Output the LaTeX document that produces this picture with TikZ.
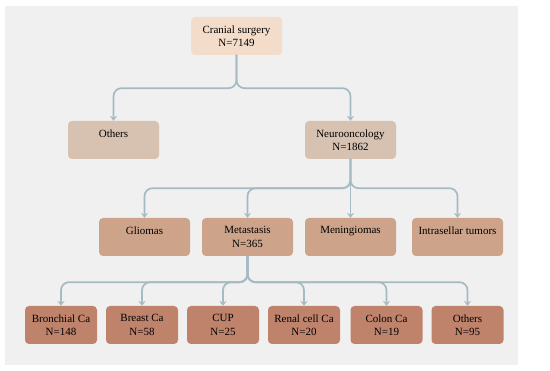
\documentclass[tikz,border=0pt]{standalone}
\usepackage{fontspec}
\setmainfont{Liberation Serif}
\usetikzlibrary{arrows.meta}

\definecolor{bgGray}{HTML}{F0F0F0}
\definecolor{cTop}{HTML}{F3DCCA}
\definecolor{cLvA}{HTML}{D7C2B2}
\definecolor{cLvB}{HTML}{CDA48A}
\definecolor{cLvC}{HTML}{BF836C}
\definecolor{cLink}{HTML}{A6BAC4}

\begin{document}
\begin{tikzpicture}[x=1pt, y=-1pt, font=\fontsize{11}{13.5}\selectfont, line join=round, line cap=round,
	box/.style={rounded corners=4pt, align=center, inner xsep=2pt, inner ysep=0pt,
		minimum height=38pt, minimum width=91pt},
	boxTop/.style={box, fill=cTop},
	boxA/.style={box, fill=cLvA},
	boxB/.style={box, fill=cLvB},
	boxC/.style={box, fill=cLvC, minimum width=72pt},
	link/.style={draw=cLink, line width=1.7pt, rounded corners=8pt, -{Stealth[length=5pt,width=7.5pt,inset=2pt]}}]
	% [Nền - Layer 1]
	\useasboundingbox (0,0) rectangle (550,371);
	\fill[bgGray] (5,6) rectangle (518,365);
	
	% [Các hộp - Layer 2]
	\node[boxTop] (surg) at (236.5,36) {Cranial surgery\\N=7149};
	\node[boxA] (othA) at (113.5,140) {Others\\\mbox{}};
	\node[boxA] (neuro) at (350.5,140) {Neurooncology\\N=1862};
	
	\node[boxB] (glio) at (144.5,237) {Gliomas\\\mbox{}};
	\node[boxB] (meta) at (247.5,237) {Metastasis\\N=365};
	\node[boxB] (menin) at (350.5,237) {Meningiomas\\\mbox{}};
	\node[boxB] (intra) at (457.5,237) {Intrasellar tumors\\\mbox{}};
	
	\node[boxC] (bronch) at (61,325) {Bronchial Ca\\N=148};
	\node[boxC] (breast) at (142,325) {Breast Ca\\N=58};
	\node[boxC] (cup) at (223,325) {CUP\\N=25};
	\node[boxC] (renal) at (304,325) {Renal cell Ca\\N=20};
	\node[boxC] (colon) at (386.5,325) {Colon Ca\\N=19};
	\node[boxC] (othB) at (467.5,325) {Others\\N=95};
	
	% [Mũi tên - Layer 3]
	\draw[link] (surg.south) -- ++(0,33) -| (othA.north);
	\draw[link] (surg.south) -- ++(0,33) -| (neuro.north);
	
	\draw[link] (neuro.south) -- ++(0,29) -| (glio.north);
	\draw[link] (neuro.south) -- ++(0,29) -| (meta.north);
	\draw[link] (neuro.south) -- (menin.north);
	\draw[link] (neuro.south) -- ++(0,29) -| (intra.north);
	
	\foreach \k in {bronch,breast,cup,renal,colon,othB}
		\draw[link] (meta.south) -- ++(0,26) -| (\k.north);
\end{tikzpicture}
\end{document}
